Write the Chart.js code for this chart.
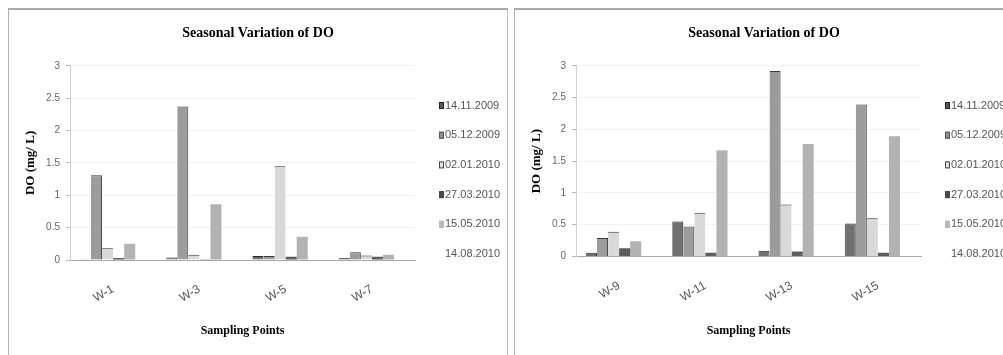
<!DOCTYPE html>
<html>
<head>
<meta charset="utf-8">
<script src="https://cdn.jsdelivr.net/npm/chart.js@4.4.1/dist/chart.umd.min.js"></script>
<style>
  html, body { margin: 0; padding: 0; background: #fff; width: 1003px; height: 355px; overflow: hidden; position: relative; }
  .panel { position: absolute; top: 8px; height: 345px; border-top: 2px solid #aaaaaa; border-left: 1px solid #b0b0b0; overflow: hidden; background: #fff; }
  #p1 { left: 8px; width: 498px; border-right: 1px solid #c4c4c4; }
  #p2 { left: 514px; width: 600px; }
  canvas { display: block; }
</style>
</head>
<body>
<div class="panel" id="p1"><canvas id="c1" width="498" height="345"></canvas></div>
<div class="panel" id="p2"><canvas id="c2" width="498" height="345"></canvas></div>
<script>
// Sampling dates (one bar series each)
const seriesLabels = ['14.11.2009', '05.12.2009', '02.01.2010', '27.03.2010', '15.05.2010', '14.08.2010'];

// Sampling points
const pointsA = ['W-1', 'W-3', 'W-5', 'W-7'];
const pointsB = ['W-9', 'W-11', 'W-13', 'W-15'];

// Value axis ticks, mg/L
const yTickValues = [0, 0.5, 1, 1.5, 2, 2.5, 3];
const yTickLabels = ['0', '0.5', '1', '1.5', '2', '2.5', '3'];

// Dissolved oxygen (mg/L), wells W-1 .. W-7
const doA_141109 = [0.01, 0.04, 0.06, 0.03];
const doA_051209 = [1.31, 2.37, 0.06, 0.12];
const doA_020110 = [0.18, 0.08, 1.45, 0.07];
const doA_270310 = [0.03, 0.01, 0.05, 0.05];
const doA_150510 = [0.25, 0.86, 0.36, 0.08];
const doA_140810 = [0, 0, 0, 0];

// Dissolved oxygen (mg/L), wells W-9 .. W-15
const doB_141109 = [0.06, 0.55, 0.09, 0.52];
const doB_051209 = [0.29, 0.47, 2.92, 2.39];
const doB_020110 = [0.39, 0.69, 0.82, 0.60];
const doB_270310 = [0.13, 0.06, 0.08, 0.06];
const doB_150510 = [0.24, 1.67, 1.77, 1.89];
const doB_140810 = [0, 0, 0, 0];

// Bar appearance per sampling date
const seriesStyle = [
  { fill: '#717171', border: '#2a2a2a', bw: { top: 1, right: 1, left: 0, bottom: 0 }, key: '#5a5a5a', keyEdge: '#222' },
  { fill: '#9c9c9c', border: '#3a3a3a', bw: { top: 1, right: 1, left: 0, bottom: 0 }, key: '#8e8e8e', keyEdge: '#555' },
  { fill: '#d9d9d9', border: '#333333', bw: { top: 1, right: 0, left: 0, bottom: 0 }, key: '#e2e2e2', keyEdge: '#444' },
  { fill: '#5e5e5e', border: '#5e5e5e', bw: 0, key: '#4a4a4a', keyEdge: '#4a4a4a' },
  { fill: '#b3b3b3', border: '#b3b3b3', bw: 0, key: '#b8b8b8', keyEdge: '#b8b8b8' },
  { fill: '#ffffff', border: '#ffffff', bw: 0, key: null, keyEdge: null }
];

function buildDatasets(seriesValues) {
  return seriesValues.map((vals, i) => ({
    label: seriesLabels[i],
    data: vals,
    yAxisID: 'y',
    backgroundColor: seriesStyle[i].fill,
    borderColor: seriesStyle[i].border,
    borderWidth: seriesStyle[i].bw,
    borderSkipped: 'start',
    keyFill: seriesStyle[i].key,
    keyEdge: seriesStyle[i].keyEdge
  }));
}

// Vertical key drawn in the space to the right of the plot
const sideLegend = {
  id: 'sideLegend',
  afterDraw(chart, args, opts) {
    const ctx = chart.ctx;
    const area = chart.chartArea;
    ctx.save();
    ctx.font = '11px "Liberation Sans", Arial, sans-serif';
    ctx.textBaseline = 'middle';
    ctx.textAlign = 'left';
    chart.data.datasets.forEach((ds, i) => {
      const y = opts.top + i * opts.step;
      const x = area.right + opts.offset;
      if (ds.keyFill) {
        ctx.fillStyle = ds.keyFill;
        ctx.fillRect(x, y - 3.5, 5, 7);
        ctx.strokeStyle = ds.keyEdge;
        ctx.lineWidth = 1;
        ctx.strokeRect(x + 0.5, y - 3, 4, 6);
      }
      ctx.fillStyle = '#555555';
      ctx.fillText(ds.label, x + 6, y);
    });
    ctx.restore();
  }
};

function makeChart(canvasId, categories, seriesValues, xAxisHeight) {
  return new Chart(document.getElementById(canvasId), {
    type: 'bar',
    data: { labels: categories, datasets: buildDatasets(seriesValues) },
    plugins: [sideLegend],
    options: {
      responsive: false,
      animation: false,
      devicePixelRatio: 1,
      layout: { padding: 0 },
      datasets: { bar: { categoryPercentage: 0.77, barPercentage: 1 } },
      plugins: {
        legend: { display: false },
        tooltip: { enabled: false },
        title: {
          display: true,
          text: 'Seasonal Variation of DO',
          color: '#000',
          font: { family: '"Liberation Serif", "Times New Roman", serif', size: 14, weight: 'bold' },
          padding: { top: 15, bottom: 24 }
        },
        sideLegend: { top: 95.5, step: 29.7, offset: 24 }
      },
      scales: {
        x: {
          grid: { drawOnChartArea: false, drawTicks: false },
          border: { display: true, color: '#a8a8a8', width: 1 },
          ticks: {
            color: '#555',
            font: { family: '"Liberation Sans", Arial, sans-serif', size: 12 },
            minRotation: 30, maxRotation: 30, padding: 22
          },
          title: {
            display: true,
            text: 'Sampling Points',
            color: '#000',
            font: { family: '"Liberation Serif", "Times New Roman", serif', size: 12, weight: 'bold' },
            padding: { top: 0, bottom: 17 }
          },
          afterFit(scale) { scale.height = xAxisHeight; }
        },
        y: {
          position: 'left',
          min: 0, max: 3,
          afterBuildTicks(scale) { scale.ticks = yTickValues.map(v => ({ value: v })); },
          grid: { color: '#f1f1f1', tickLength: 4, tickColor: '#b8b8b8' },
          border: { display: true, color: '#d0d0d0', width: 1 },
          ticks: {
            color: '#666',
            font: { family: '"Liberation Sans", Arial, sans-serif', size: 10 },
            padding: 6,
            callback: (value) => yTickLabels[yTickValues.indexOf(value)]
          },
          title: {
            display: true,
            text: 'DO (mg/ L)',
            color: '#000',
            font: { family: '"Liberation Serif", "Times New Roman", serif', size: 13, weight: 'bold' },
            padding: { top: 14, bottom: 0 }
          },
          afterFit(scale) { scale.width = 61; }
        },
        // empty right-hand band that holds the date key
        keyBand: {
          position: 'right',
          display: true,
          min: 0, max: 3,
          grid: { display: false, drawOnChartArea: false, drawTicks: false },
          border: { display: false },
          ticks: { display: false },
          afterFit(scale) { scale.width = 92; }
        }
      }
    }
  });
}

makeChart('c1', pointsA, [doA_141109, doA_051209, doA_020110, doA_270310, doA_150510, doA_140810], 95);
makeChart('c2', pointsB, [doB_141109, doB_051209, doB_020110, doB_270310, doB_150510, doB_140810], 98.5);
</script>
</body>
</html>
